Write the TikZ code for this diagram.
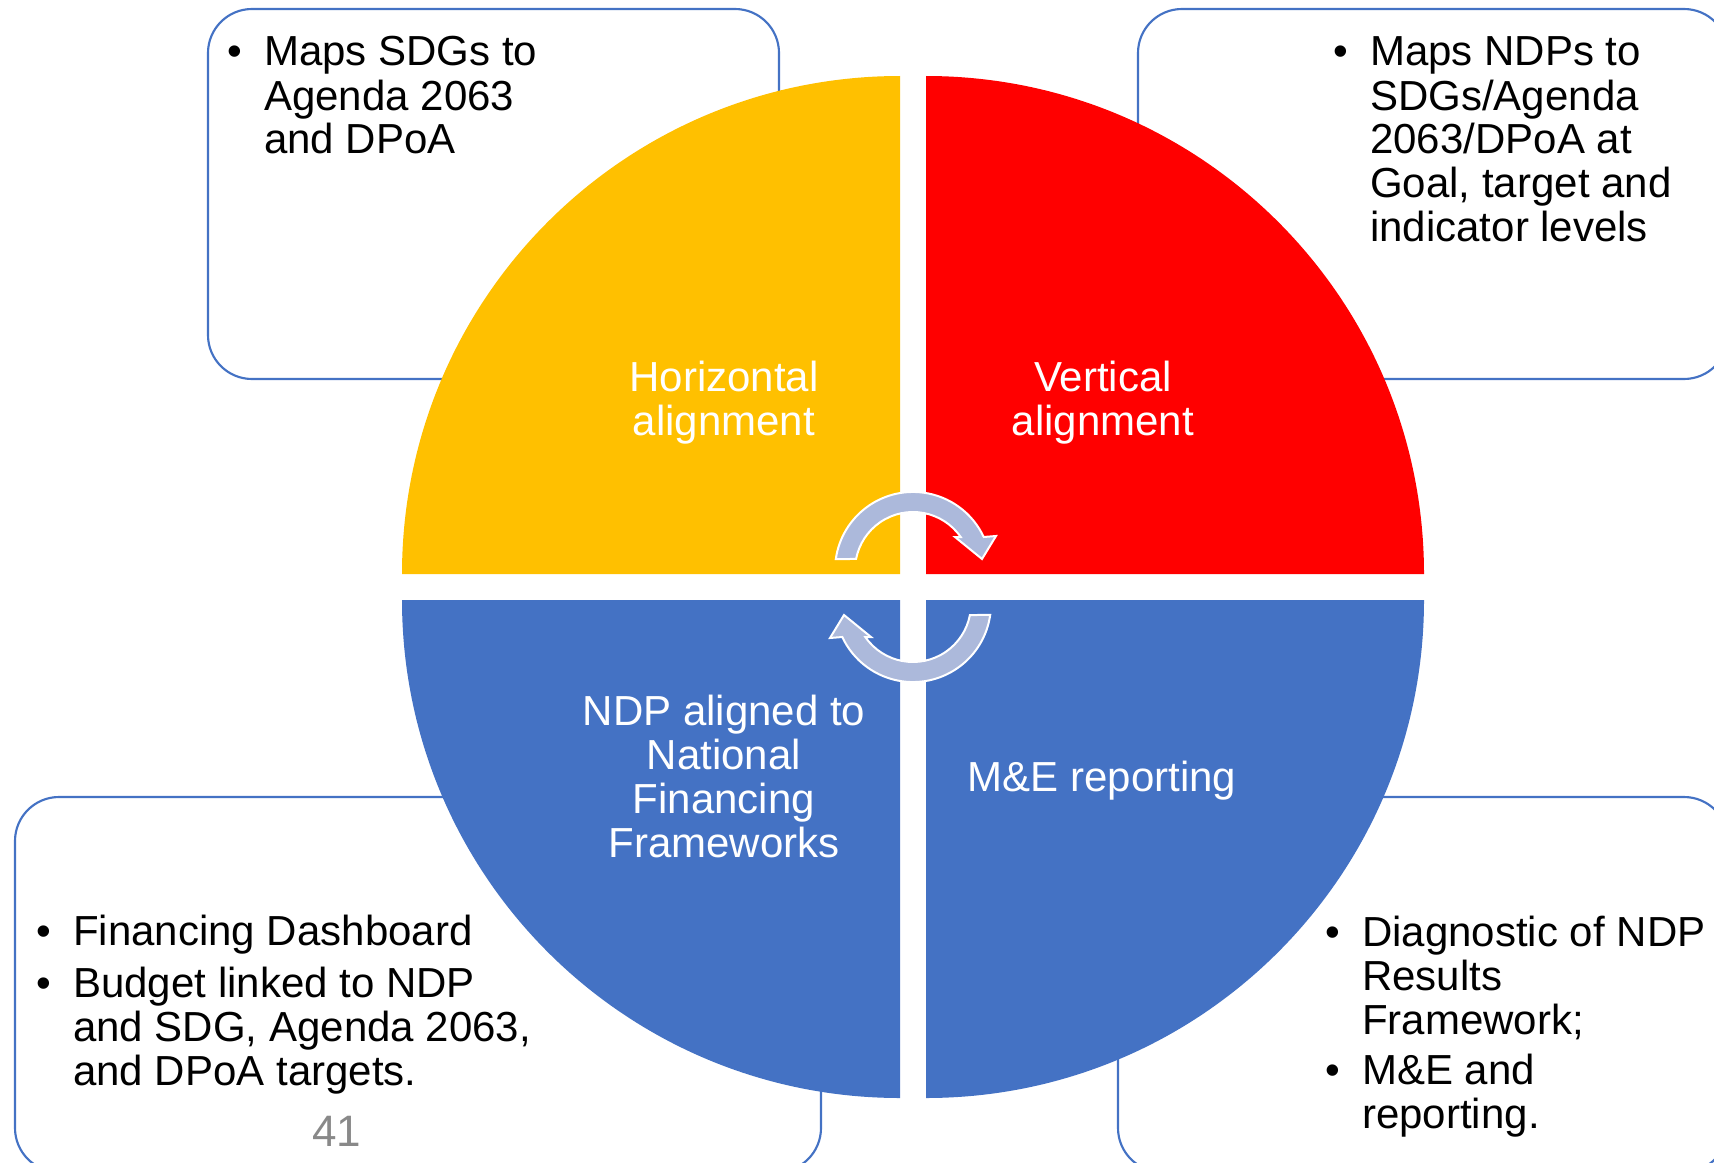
\documentclass[tikz,border=0pt]{standalone}
\usepackage{fontspec}
\setmainfont{Liberation Sans}
\usepackage{tikz}

\newcommand{\blt}{\llap{\textbullet\hspace{16.5pt}}}

\begin{document}
\begin{tikzpicture}[x=0.75pt,y=0.75pt,yscale=-1,xscale=1,
	notebox/.style={draw={rgb, 255:red, 68; green, 114; blue, 196}, line width=1.6pt, fill=white, rounded corners=33pt},
	bodytext/.style={inner sep=0pt, font=\fontsize{31.5}{33}\selectfont},
	quartertext/.style={bodytext, text=white},
	cyclearrow/.style={fill={rgb, 255:red, 172; green, 185; blue, 219}, draw=white, line width=1.5pt, line join=miter}]
	\useasboundingbox (0,0) rectangle (1714,1163);
	\clip (0,0) rectangle (1714,1163);
	
	%Shape: Rounded Rect [notes behind the circle]
	\draw [notebox] (208,9) rectangle (779,379);
	\draw [notebox] (1138,9) rectangle (1728,379);
	\draw [notebox] (15,797) rectangle (821,1172);
	\draw [notebox] (1118,797) rectangle (1728,1172);
	
	%Shape: Quarter circles
	\fill [color={rgb, 255:red, 255; green, 192; blue, 0}] (900,574) -- (402,574) arc [start angle=-180, end angle=-90, radius=498] -- cycle;
	\fill [color={rgb, 255:red, 255; green, 0; blue, 0}] (926,574) -- (926,76) arc [start angle=-90, end angle=0, radius=498] -- cycle;
	\fill [color={rgb, 255:red, 68; green, 114; blue, 196}] (900,600) -- (402,600) arc [start angle=180, end angle=90, radius=498] -- cycle;
	\fill [color={rgb, 255:red, 68; green, 114; blue, 196}] (926,600) -- (926,1098) arc [start angle=90, end angle=0, radius=498] -- cycle;
	
	%Curve Arrows [turning round the centre]
	\foreach \turn in {0,180} {
		\draw [cyclearrow, rotate around={\turn:(913,587)}] (835.8,559.1) arc [start angle=-172, end angle=-25, radius=78] -- (996,536) -- (982,559) -- (955,537) -- (960.7,537) arc [start angle=-34.7, end angle=-169, radius=58] -- cycle;
	}
	
	% Text Node
	\draw (724,391) node (horiz) [anchor=base][quartertext] {\begin{tabular}[t]{@{}c@{}}Horizontal\\alignment\end{tabular}};
	% Text Node
	\draw (1103,391) node (vert) [anchor=base][quartertext] {\begin{tabular}[t]{@{}c@{}}Vertical\\alignment\end{tabular}};
	% Text Node
	\draw (724,725) node (ndp) [anchor=base][quartertext] {\begin{tabular}[t]{@{}c@{}}NDP aligned to\\National\\Financing\\Frameworks\end{tabular}};
	% Text Node
	\draw (1102,791) node (mande) [anchor=base][quartertext] {M\&E reporting};
	
	% Text Node
	\draw (264,66) node (sdgnote) [anchor=base west][bodytext] {\begin{tabular}[t]{@{}l@{}}\blt Maps SDGs to\\Agenda 2063\\and DPoA\end{tabular}};
	% Text Node
	\draw (1370,66) node (ndpnote) [anchor=base west][bodytext] {\begin{tabular}[t]{@{}l@{}}\blt Maps NDPs to\\SDGs/Agenda\\2063/DPoA at\\Goal, target and\\indicator levels\end{tabular}};
	% Text Node
	\draw (73,945) node (finnote) [anchor=base west][bodytext] {\begin{tabular}[t]{@{}l@{}}\blt Financing Dashboard\\[6pt]\blt Budget linked to NDP\\and SDG, Agenda 2063,\\and DPoA targets.\end{tabular}};
	% Text Node
	\draw (1362,946) node (menote) [anchor=base west][bodytext] {\begin{tabular}[t]{@{}l@{}}\blt Diagnostic of NDP\\Results\\Framework;\\[5pt]\blt M\&E and\\reporting.\end{tabular}};
	% Text Node
	\draw (337,1146) node (slideno) [anchor=base][inner sep=0pt, font=\fontsize{33}{36}\selectfont, color={rgb, 255:red, 137; green, 137; blue, 137}] {41};
	
\end{tikzpicture}
\end{document}
